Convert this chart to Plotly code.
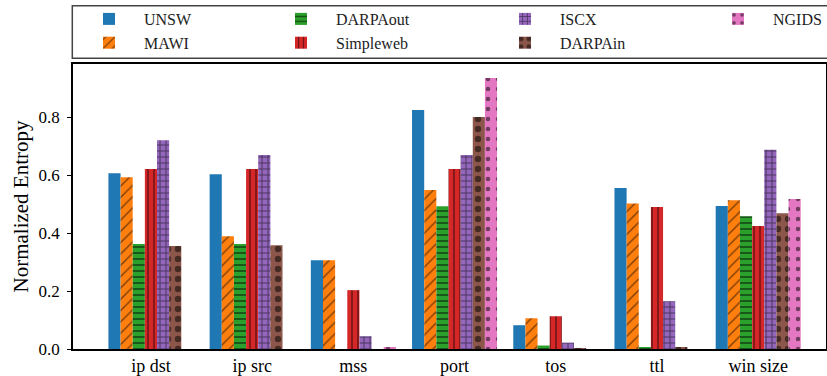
import plotly.graph_objects as go

categories = ["ip dst", "ip src", "mss", "port", "tos", "ttl", "win size"]

unsw      = [0.606, 0.603, 0.306, 0.824, 0.082, 0.555, 0.493]
mawi      = [0.592, 0.389, 0.306, 0.548, 0.106, 0.502, 0.513]
darpaout  = [0.362, 0.362, 0.0,   0.492, 0.012, 0.005, 0.458]
simpleweb = [0.621, 0.621, 0.203, 0.621, 0.113, 0.490, 0.424]
iscx      = [0.720, 0.669, 0.044, 0.669, 0.022, 0.165, 0.687]
darpain   = [0.355, 0.358, 0.0,   0.800, 0.003, 0.005, 0.468]
ngids     = [0.0,   0.0,   0.006, 0.935, 0.0,   0.0,   0.517]

# name, values, colour, hatch, hatch size, solidity, legend column
series = [
    ("UNSW", unsw, "#1f77b4", "", 6, 0.3, "legend"),
    ("MAWI", mawi, "#ff7f0e", "/", 8, 0.18, "legend"),
    ("DARPAout", darpaout, "#2ca02c", "-", 6, 0.3, "legend2"),
    ("Simpleweb", simpleweb, "#d62728", "|", 6, 0.25, "legend2"),
    ("ISCX", iscx, "#9467bd", "+", 6, 0.3, "legend3"),
    ("DARPAin", darpain, "#8c564b", ".", 10, 0.32, "legend3"),
    ("NGIDS", ngids, "#e377c2", ".", 10, 0.16, "legend4"),
]

FONT = "Liberation Serif"
x_idx = list(range(len(categories)))

W, H = 827, 376
ML, MR, MT, MB = 73, 0, 64, 27
PW, PH = W - ML - MR, H - MT - MB


def px_to_paper_x(px):
    return (px - ML) / PW


def px_to_paper_y(py):
    return (H - MB - py) / PH


fig = go.Figure()
for name, vals, color, shape, size, solidity, leg in series:
    fig.add_trace(go.Bar(
        x=x_idx, y=vals, name=name, legend=leg,
        marker=dict(
            color=color,
            line=dict(width=0),
            pattern=dict(shape=shape, size=size, solidity=solidity,
                         fgcolor="black", bgcolor=color, fillmode="overlay"),
        ),
    ))

legend_common = dict(
    orientation="v", xanchor="left", yanchor="top",
    y=px_to_paper_y(2), borderwidth=0, bgcolor="rgba(0,0,0,0)",
    font=dict(family=FONT, size=16, color="#222222"),
    itemwidth=60, traceorder="normal", tracegroupgap=0,
)
legend_cols_px = [74, 266, 490, 704]

fig.update_layout(
    width=W, height=H,
    margin=dict(l=ML, r=MR, t=MT, b=MB),
    barmode="group", bargap=0.16, bargroupgap=0,
    plot_bgcolor="white", paper_bgcolor="white",
    font=dict(family=FONT, size=17, color="black"),
    showlegend=True,
    legend=dict(x=px_to_paper_x(legend_cols_px[0]), **legend_common),
    legend2=dict(x=px_to_paper_x(legend_cols_px[1]), **legend_common),
    legend3=dict(x=px_to_paper_x(legend_cols_px[2]), **legend_common),
    legend4=dict(x=px_to_paper_x(legend_cols_px[3]), **legend_common),
    shapes=[dict(
        type="rect", xref="paper", yref="paper",
        x0=px_to_paper_x(72.3), x1=px_to_paper_x(832),
        y0=px_to_paper_y(58.3), y1=px_to_paper_y(5.7),
        line=dict(color="#444444", width=1.5), fillcolor="rgba(0,0,0,0)",
        layer="above",
    )],
)

fig.update_xaxes(
    range=[-0.77, 6.67],
    tickmode="array", tickvals=x_idx, ticktext=categories,
    ticks="", showgrid=False, zeroline=False,
    showline=True, linecolor="black", linewidth=1.5, mirror=True,
    tickfont=dict(family=FONT, size=18),
)
fig.update_yaxes(
    range=[0, 0.983],
    tickmode="array", tickvals=[0, 0.2, 0.4, 0.6, 0.8],
    ticktext=["0.0", "0.2", "0.4", "0.6", "0.8"],
    ticks="outside", ticklen=4, tickwidth=1, tickcolor="black",
    ticklabelstandoff=4,
    showgrid=False, zeroline=False,
    showline=True, linecolor="black", linewidth=1.5, mirror=True,
    tickfont=dict(family=FONT, size=17),
    title=dict(text="Normalized Entropy", font=dict(family=FONT, size=21), standoff=4),
    automargin=False,
)

fig.write_html("out.html")
